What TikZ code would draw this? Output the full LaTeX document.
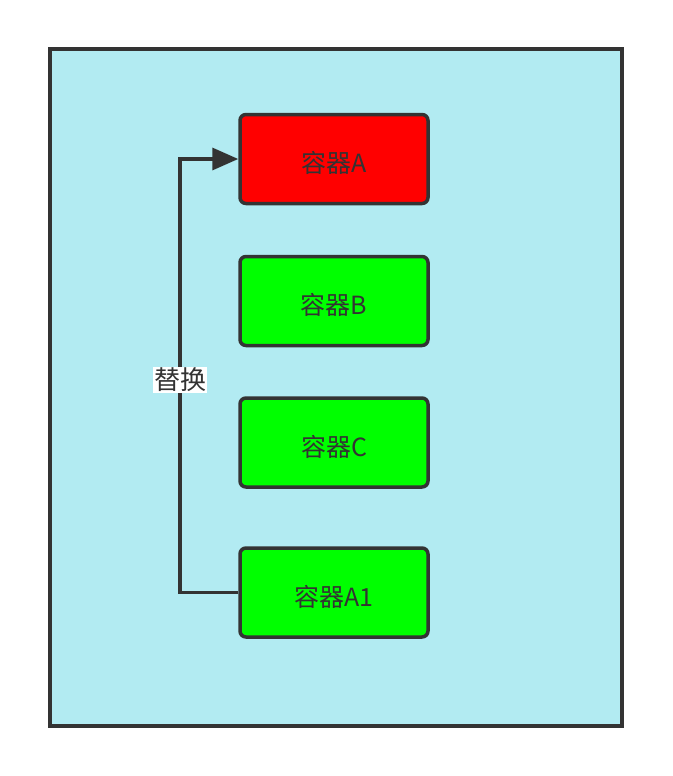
\documentclass[tikz,border=0pt]{standalone}
\usepackage{fontspec}
\setmainfont{Noto Sans CJK SC}
\usetikzlibrary{arrows.meta}
\definecolor{bgc}{HTML}{B2EBF2}
\definecolor{ink}{HTML}{333333}
\begin{document}
\begin{tikzpicture}[x=1pt,y=-1pt,
  box/.style={draw=ink,line width=3.5pt,rounded corners=6pt,minimum width=188pt,minimum height=89pt,inner sep=0pt},
  boxtext/.style={label={[text=ink,font=\fontsize{25}{30}\selectfont,yshift=-4pt]center:#1}},
  redbox/.style={box,fill=red},
  greenbox/.style={box,fill=green}]
\useasboundingbox (0,0) rectangle (672,776);
\draw[draw=ink,fill=bgc,line width=3.5pt] (50,49) rectangle (622,726);
\node[redbox,boxtext={容器A}] (a) at (334,159) {};
\node[greenbox,boxtext={容器B}] (b) at (334,301) {};
\node[greenbox,boxtext={容器C}] (c) at (334,442.5) {};
\node[greenbox,boxtext={容器A1}] (a1) at (334,592.5) {};
\coordinate (k1) at (180,592.5);
\coordinate (k2) at (180,159);
\draw[draw=ink,line width=3.5pt,-{Triangle[length=26pt,width=22pt]}] (a1.west) -- (k1) -- (k2) -- (a.west);
\node[fill=white,inner sep=1pt,text=ink,font=\fontsize{26}{30}\selectfont] (lbl) at (180,380) {替换};
\end{tikzpicture}
\end{document}
